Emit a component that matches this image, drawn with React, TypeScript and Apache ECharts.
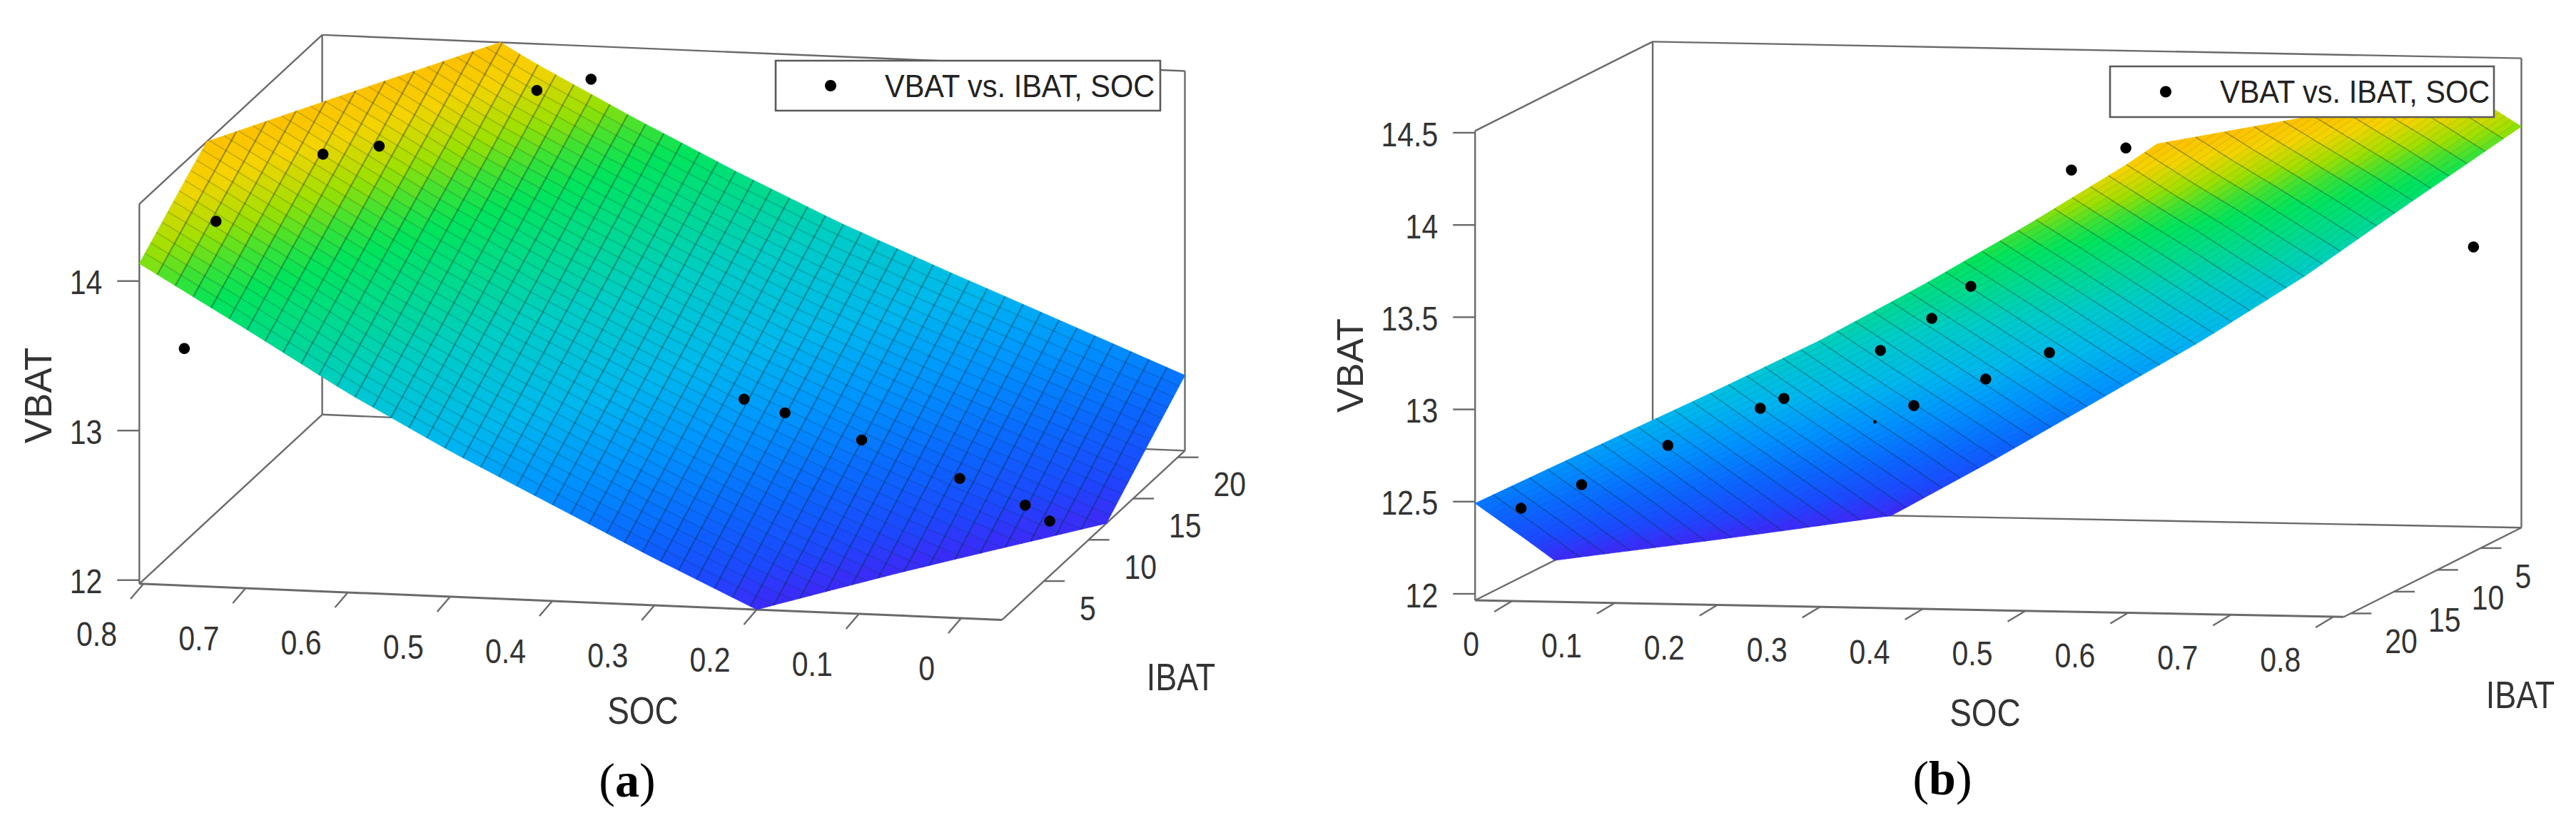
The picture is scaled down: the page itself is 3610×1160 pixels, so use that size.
import React, { useEffect, useRef } from "react";
import * as echarts from "echarts";

// ---- values ----
const socTicks = [0, 0.1, 0.2, 0.3, 0.4, 0.5, 0.6, 0.7, 0.8];
const ibatTicks = [5, 10, 15, 20];
const vbatTicksA = [12, 13, 14];
const vbatTicksB = [12, 12.5, 13, 13.5, 14, 14.5];

// fitted surface VBAT(SOC, IBAT), estimated at these nodes
const surfaceSoc = [-0.04, 0.1, 0.2, 0.3, 0.4, 0.5, 0.6, 0.7, 0.81];
const surfaceIbat = [0.3, 5, 10, 15, 20.8];
const vbatAtIbat0 = [11.28, 11.68, 11.976, 12.29, 12.62, 12.95, 13.31, 13.71, 14.14];
const vbatAtIbat5 = [11.56, 11.95, 12.24, 12.55, 12.87, 13.2, 13.56, 13.96, 14.39];
const vbatAtIbat10 = [11.86, 12.24, 12.52, 12.82, 13.14, 13.47, 13.83, 14.22, 14.65];
const vbatAtIbat15 = [12.15, 12.53, 12.8, 13.09, 13.41, 13.74, 14.09, 14.48, 14.91];
const vbatAtIbat21 = [12.48, 12.86, 13.13, 13.41, 13.72, 14.05, 14.4, 14.79, 15.22];
const surfaceVbat = [vbatAtIbat0, vbatAtIbat5, vbatAtIbat10, vbatAtIbat15, vbatAtIbat21];

// measured points [SOC, IBAT, VBAT]
const pointsA = [
  [0.534, 20, 14.34], [0.587, 20, 14.25], [0.654, 10, 14.41], [0.709, 10, 14.34],
  [0.77, 5, 14.15], [0.801, 5, 13.29], [0.297, 10, 12.82], [0.257, 10, 12.74],
  [0.182, 10, 12.58], [0.086, 10, 12.35], [0.022, 10, 12.19], [-0.002, 10, 12.09],
];
const pointsB = [
  [0.002, 20, 12.449], [0.061, 20, 12.583], [0.145, 20, 12.805], [0.235, 20, 13.016],
  [0.258, 20, 13.072], [0.352, 20, 13.342], [0.402, 20, 13.521], [0.258, 5, 12.679],
  [0.44, 20, 13.699], [0.39, 5, 12.98], [0.328, 5, 12.83], [0.538, 20, 14.34],
  [0.591, 20, 14.465], [0.803, 5, 13.597],
];
const pointsBHalfHidden = [[0.22, 5, 12.587]];

const colorStops: [number, string][] = [
  [12.0, "#3a2cf8"], [12.15, "#1c48ff"], [12.4, "#0a68ff"], [12.7, "#0094ff"],
  [13.0, "#00b8ee"], [13.35, "#00ccc8"], [13.65, "#00dc88"], [13.85, "#00e45c"], [14.0, "#3ce234"],
  [14.15, "#a0e000"], [14.35, "#f4d400"], [14.55, "#ffbc00"],
];

const LEGEND_NAME = "VBAT vs. IBAT, SOC";
const FONT = '"Liberation Sans", Arial, sans-serif';
const FACETS_SOC = 48;
const FACETS_IBAT = 32;

type View = {
  o: number[]; sv: number[]; iv: number[]; iRef: number; zv: number; zRef: number;
  sLim: number[]; iLim: number[]; zLim: number[];
  vbatTicks: number[]; socTick: number[]; socLabel: number[]; ibatLabel: number[];
  strokeS: string; strokeI: string; wS: number; wI: number;
  names: { text: string; x: number; y: number; size: number; rotation?: number }[];
  caption: { letter: string; x: number; y: number };
  legend: { x: number; y: number; w: number; h: number; dotX: number; textX: number };
};

const viewA: View = {
  o: [1347, 866], sv: [-1432.5, -60], iv: [12.5, -11.56], iRef: 0.3, zv: -209.5, zRef: 11.976,
  sLim: [-0.04, 0.804], iLim: [0.3, 20.8], zLim: [11.976, 14.515],
  vbatTicks: vbatTicksA, socTick: [-18, 21], socLabel: [-37, 70], ibatLabel: [50, 38],
  strokeS: "rgba(0,40,50,0.36)", strokeI: "rgba(0,40,50,0.17)", wS: 2.2, wI: 2,
  names: [
    { text: "VBAT", x: 53, y: 554, size: 53, rotation: Math.PI / 2 },
    { text: "SOC", x: 901, y: 995, size: 46 },
    { text: "IBAT", x: 1655, y: 948, size: 45 },
  ],
  caption: { letter: "a", x: 879, y: 1093 },
  legend: { x: 1087, y: 85, w: 539, h: 70, dotX: 1164, textX: 1240 },
};

const viewB: View = {
  o: [2119, 842], sv: [1439, 27.5], iv: [-12.14, 6.1], iRef: 20.8, zv: -258.4, zRef: 11.965,
  sLim: [-0.036, 0.81], iLim: [0.3, 20.8], zLim: [11.965, 14.51],
  vbatTicks: vbatTicksB, socTick: [-25, 15], socLabel: [-46, 60], ibatLabel: [48, 39],
  strokeS: "rgba(0,40,50,0.33)", strokeI: "rgba(0,40,50,0.06)", wS: 1.6, wI: 2,
  names: [
    { text: "VBAT", x: 1892, y: 512, size: 52, rotation: Math.PI / 2 },
    { text: "SOC", x: 2782, y: 998, size: 46 },
    { text: "IBAT", x: 3532, y: 973, size: 45 },
  ],
  caption: { letter: "b", x: 2722, y: 1090 },
  legend: { x: 2957, y: 93, w: 538, h: 71, dotX: 3035, textX: 3111 },
};

function project(v: View, s: number, i: number, z: number): number[] {
  return [
    v.o[0] + s * v.sv[0] + (i - v.iRef) * v.iv[0],
    v.o[1] + s * v.sv[1] + (i - v.iRef) * v.iv[1] + (z - v.zRef) * v.zv,
  ];
}

function segIndex(nodes: number[], x: number) {
  let k = 0;
  while (k < nodes.length - 2 && x > nodes[k + 1]) k++;
  return k;
}

// height of the surface inside one table cell, used only to draw its facets
function vbatAt(s: number, i: number) {
  const a = segIndex(surfaceSoc, s);
  const b = segIndex(surfaceIbat, i);
  const u = (s - surfaceSoc[a]) / (surfaceSoc[a + 1] - surfaceSoc[a]);
  const w = (i - surfaceIbat[b]) / (surfaceIbat[b + 1] - surfaceIbat[b]);
  const lo = surfaceVbat[b][a] * (1 - u) + surfaceVbat[b][a + 1] * u;
  const hi = surfaceVbat[b + 1][a] * (1 - u) + surfaceVbat[b + 1][a + 1] * u;
  return lo * (1 - w) + hi * w;
}

function hex(c: string) {
  return [1, 3, 5].map((k) => parseInt(c.slice(k, k + 2), 16));
}
function colorOf(z: number) {
  if (z <= colorStops[0][0]) return colorStops[0][1];
  for (let k = 0; k < colorStops.length - 1; k++) {
    const [z0, c0] = colorStops[k];
    const [z1, c1] = colorStops[k + 1];
    if (z <= z1) {
      const t = (z - z0) / (z1 - z0);
      const a = hex(c0);
      const b = hex(c1);
      return `rgb(${a.map((x, n) => Math.round(x + (b[n] - x) * t)).join(",")})`;
    }
  }
  return colorStops[colorStops.length - 1][1];
}

type P3 = number[];
function clipBelow(poly: P3[], limit: number, keepAbove: boolean) {
  const out: P3[] = [];
  const inside = (p: P3) => (keepAbove ? p[2] >= limit : p[2] <= limit);
  for (let k = 0; k < poly.length; k++) {
    const a = poly[k];
    const b = poly[(k + 1) % poly.length];
    const ia = inside(a);
    const ib = inside(b);
    if (ia) out.push(a);
    if (ia !== ib) {
      const t = (limit - a[2]) / (b[2] - a[2]);
      out.push([a[0] + (b[0] - a[0]) * t, a[1] + (b[1] - a[1]) * t, limit]);
    }
  }
  return out;
}

function chainClip(pts: P3[], zLim: number[]) {
  const chains: P3[][] = [];
  let cur: P3[] = [];
  for (let k = 0; k < pts.length - 1; k++) {
    const a = pts[k];
    const b = pts[k + 1];
    if ((a[2] < zLim[0] && b[2] < zLim[0]) || (a[2] > zLim[1] && b[2] > zLim[1])) {
      if (cur.length) chains.push(cur);
      cur = [];
      continue;
    }
    const cut = (p: P3, q: P3, lim: number) => {
      const t = (lim - p[2]) / (q[2] - p[2]);
      return [p[0] + (q[0] - p[0]) * t, p[1] + (q[1] - p[1]) * t, lim];
    };
    const ca = a[2] < zLim[0] ? cut(a, b, zLim[0]) : a[2] > zLim[1] ? cut(a, b, zLim[1]) : a;
    const cb = b[2] < zLim[0] ? cut(a, b, zLim[0]) : b[2] > zLim[1] ? cut(a, b, zLim[1]) : b;
    if (!cur.length) cur.push(ca);
    cur.push(cb);
    if (cb !== b) {
      chains.push(cur);
      cur = [];
    }
  }
  if (cur.length) chains.push(cur);
  return chains;
}

function surfaceSeries(v: View) {
  return {
    type: "custom",
    z: 3,
    silent: true,
    clip: false,
    progressive: 0,
    data: [[0]],
    renderItem: (_: any, api: any) => {
      const children: any[] = [];
      const toXY = (p: P3) => api.coord(project(v, p[0], p[1], p[2]));
      const sAt = (k: number) => v.sLim[0] + ((v.sLim[1] - v.sLim[0]) * k) / FACETS_SOC;
      const iAt = (k: number) => v.iLim[0] + ((v.iLim[1] - v.iLim[0]) * k) / FACETS_IBAT;
      for (let a = 0; a < FACETS_SOC; a++) {
        for (let b = 0; b < FACETS_IBAT; b++) {
          const corner = (m: number, n: number) => {
            const s = sAt(m);
            const i = iAt(n);
            return [s, i, vbatAt(s, i)];
          };
          let poly = [corner(a, b), corner(a + 1, b), corner(a + 1, b + 1), corner(a, b + 1)];
          const mean = poly.reduce((t, p) => t + p[2], 0) / 4;
          poly = clipBelow(poly, v.zLim[0], true);
          if (poly.length) poly = clipBelow(poly, v.zLim[1], false);
          if (poly.length < 3) continue;
          const c = colorOf(Math.min(mean, v.zLim[1]));
          children.push({
            type: "polygon",
            shape: { points: poly.map(toXY) },
            style: { fill: c, stroke: c, lineWidth: 0.8 },
          });
        }
      }
      const addLines = (pts: P3[], stroke: string, w: number) => {
        for (const ch of chainClip(pts, v.zLim)) {
          children.push({
            type: "polyline",
            shape: { points: ch.map(toXY) },
            style: { fill: "none", stroke, lineWidth: w },
          });
        }
      };
      for (let n = 1; n < FACETS_IBAT; n++) {
        const pts: P3[] = [];
        for (let m = 0; m <= FACETS_SOC; m++) pts.push([sAt(m), iAt(n), vbatAt(sAt(m), iAt(n))]);
        addLines(pts, v.strokeI, v.wI);
      }
      for (let m = 1; m < FACETS_SOC; m++) {
        const pts: P3[] = [];
        for (let n = 0; n <= FACETS_IBAT; n++) pts.push([sAt(m), iAt(n), vbatAt(sAt(m), iAt(n))]);
        addLines(pts, v.strokeS, v.wS);
      }
      return { type: "group", children };
    },
  };
}

function frameSeries(v: View) {
  return {
    type: "custom",
    z: 1,
    silent: true,
    clip: false,
    data: [[0]],
    renderItem: (_: any, api: any) => {
      const P = (s: number, i: number, z: number) => api.coord(project(v, s, i, z));
      const [s0, s1] = v.sLim;
      const [i0, i1] = v.iLim;
      const [z0, z1] = v.zLim;
      const line = (a: number[], b: number[], w = 2.4, c = "#6a6a6a") => ({
        type: "line",
        shape: { x1: a[0], y1: a[1], x2: b[0], y2: b[1] },
        style: { stroke: c, lineWidth: w },
      });
      const text = (t: string, x: number, y: number, align: string, size: number, rotation = 0) => ({
        type: "text",
        x,
        y,
        rotation,
        scaleY: rotation ? 1 : 1.18,
        style: {
          text: t,
          fontFamily: FONT,
          fontSize: size,
          fill: "#333",
          align,
          verticalAlign: "middle",
        },
      });
      const sLeft = v.sv[0] < 0 ? s1 : s0; // the wall drawn at the left
      const sRight = v.sv[0] < 0 ? s0 : s1;
      const iNear = v.sv[0] < 0 ? i0 : i1;
      const iFar = v.sv[0] < 0 ? i1 : i0;
      const children: any[] = [
        line(P(sLeft, iNear, z0), P(sLeft, iNear, z1)),
        line(P(sLeft, iNear, z1), P(sLeft, iFar, z1)),
        line(P(sLeft, iFar, z0), P(sLeft, iFar, z1)),
        line(P(sLeft, iFar, z1), P(sRight, iFar, z1)),
        line(P(sRight, iFar, z0), P(sRight, iFar, z1)),
        line(P(sLeft, iFar, z0), P(sRight, iFar, z0)),
        line(P(sLeft, iNear, z0), P(sLeft, iFar, z0)),
        line(P(sLeft, iNear, z0), P(sRight, iNear, z0), 3),
        line(P(sRight, iNear, z0), P(sRight, iFar, z0)),
      ];
      for (const t of socTicks) {
        const p = P(t, iNear, z0);
        children.push(line(p, [p[0] + v.socTick[0], p[1] + v.socTick[1]]));
        children.push(text(String(t), p[0] + v.socLabel[0], p[1] + v.socLabel[1], "right", 41));
      }
      for (const t of ibatTicks) {
        const p = P(sRight, t, z0);
        children.push(line(p, [p[0] + 29, p[1]]));
        children.push(text(String(t), p[0] + v.ibatLabel[0], p[1] + v.ibatLabel[1], "left", 41));
      }
      for (const t of v.vbatTicks) {
        const p = P(sLeft, iNear, t);
        children.push(line(p, [p[0] - 31, p[1]]));
        children.push(text(String(t), p[0] - 52, p[1] + 2, "right", 41));
      }
      for (const n of v.names) {
        const pos = api.coord([n.x, n.y]);
        children.push(text(n.text, pos[0], pos[1], "center", n.size, n.rotation || 0));
      }
      return { type: "group", children };
    },
  };
}

function pointSeries(v: View, pts: number[][], hidden: number[][] = []) {
  const toValue = (p: number[]) => project(v, p[0], p[1], p[2]);
  return {
    type: "scatter",
    name: LEGEND_NAME,
    z: 4,
    silent: true,
    clip: false,
    symbol: "circle",
    symbolSize: 15.5,
    itemStyle: { color: "#000", opacity: 1 },
    data: [
      ...pts.map((p) => ({ value: toValue(p) })),
      ...hidden.map((p) => ({ value: toValue(p), symbolSize: 5 })),
    ],
  };
}

function legendBoxes() {
  const out: any[] = [];
  for (const v of [viewA, viewB]) {
    const l = v.legend;
    out.push({
      type: "rect",
      z: 10,
      shape: { x: l.x, y: l.y, width: l.w, height: l.h },
      style: { fill: "#fff", stroke: "#5a5a5a", lineWidth: 2.6 },
    });
    out.push({
      type: "circle",
      z: 11,
      shape: { cx: l.dotX, cy: l.y + l.h / 2, r: 8 },
      style: { fill: "#000" },
    });
    out.push({
      type: "text",
      z: 11,
      x: l.textX,
      y: l.y + l.h / 2,
      scaleY: 1.08,
      style: {
        text: LEGEND_NAME,
        fontFamily: FONT,
        fontSize: 41.5,
        fill: "#222",
        align: "left",
        verticalAlign: "middle",
      },
    });
  }
  return out;
}

function captions() {
  return [viewA, viewB].map((v) => ({
    type: "text",
    x: v.caption.x,
    y: v.caption.y,
    z: 10,
    style: {
      text: `{n|(}{b|${v.caption.letter}}{n|)}`,
      align: "center",
      verticalAlign: "middle",
      rich: {
        n: { fontFamily: '"Liberation Serif", serif', fontSize: 68, fill: "#000" },
        b: { fontFamily: '"Liberation Serif", serif', fontSize: 68, fontWeight: "bold", fill: "#000" },
      },
    },
  }));
}

export default function App() {
  const ref = useRef<HTMLDivElement>(null);
  useEffect(() => {
    const chart = echarts.init(ref.current!, undefined, { renderer: "svg" });
    chart.setOption({
      animation: false,
      backgroundColor: "#fff",
      grid: { left: 0, right: 0, top: 0, bottom: 0 },
      xAxis: { type: "value", min: 0, max: 3610, show: false },
      yAxis: { type: "value", min: 0, max: 1160, inverse: true, show: false },
      graphic: [...legendBoxes(), ...captions()],
      series: [
        frameSeries(viewA),
        surfaceSeries(viewA),
        pointSeries(viewA, pointsA),
        frameSeries(viewB),
        surfaceSeries(viewB),
        pointSeries(viewB, pointsB, pointsBHalfHidden),
      ],
    });
    return () => chart.dispose();
  }, []);
  return (
    <div
      ref={ref}
      style={{ position: "fixed", left: 0, top: 0, width: 3610, height: 1160 }}
    />
  );
}
